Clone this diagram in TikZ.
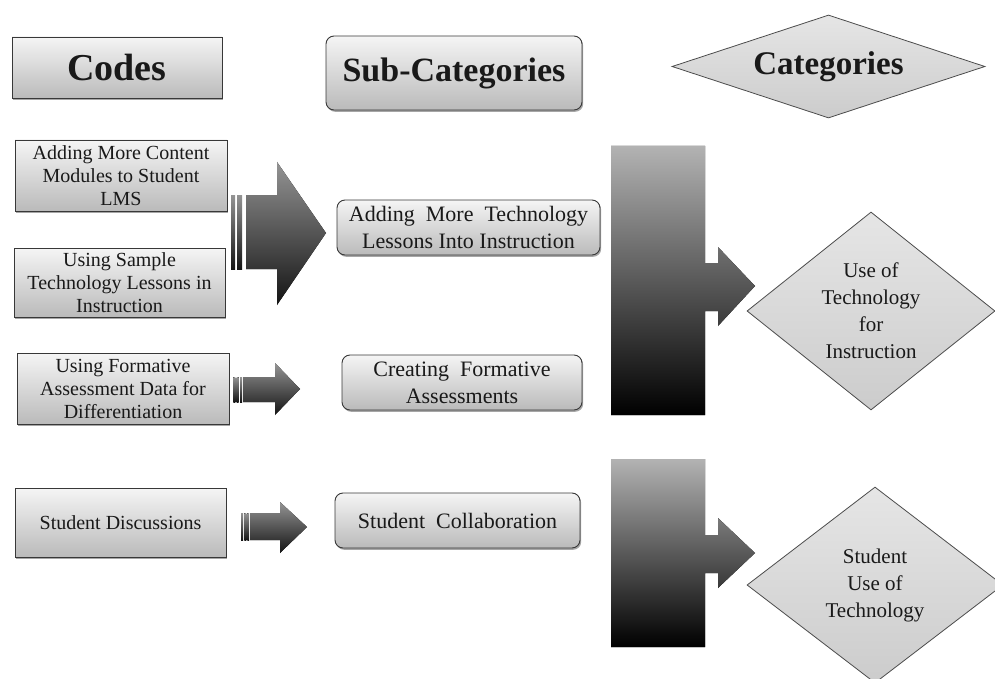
\documentclass[tikz,border=0pt]{standalone}
\usepackage{fontspec}
\setmainfont{Liberation Serif}
\usetikzlibrary{shapes.geometric,shadows}
\tikzset{
  boxshadow/.style={drop shadow={shadow xshift=1.2pt,shadow yshift=-1.8pt,opacity=0.35,fill=black}},
  codebox/.style={draw=black!78, line width=0.9pt, top color=black!4, bottom color=black!27,
    boxshadow, inner sep=0pt, align=center, text=black!90,
    font=\fontsize{20}{23}\selectfont},
  subbox/.style={codebox, rounded corners=8pt, font=\fontsize{22}{27}\selectfont},
  catdiamond/.style={diamond, draw=black!70, line width=0.8pt, top color=black!10, bottom color=black!20,
    inner sep=0pt, align=center, text=black!90, font=\fontsize{21}{27}\selectfont},
  blockarrow/.style={top color=black!42, bottom color=black!92},
  barfill/.style={top color=black!30, bottom color=black!100},
}
\begin{document}
\begin{tikzpicture}[x=1pt,y=-1pt]
\useasboundingbox (0,0) rectangle (995,679);

% headers
\node[codebox, minimum width=210, minimum height=61] (codes) at (117,67.5)
  {\fontsize{38}{40}\selectfont\bfseries Codes};
\node[codebox, rounded corners=8pt, minimum width=256, minimum height=74] (subcat) at (454,73)
  {\fontsize{34}{38}\selectfont\bfseries Sub-Categories};
\node[catdiamond, aspect=3, minimum width=313, minimum height=103] (cat) at (828.5,66.5)
  {\fontsize{33}{36}\selectfont\bfseries Categories};

% codes
\node[codebox, minimum width=212, minimum height=71] (c1) at (121,175.5)
  {Adding More Content\\Modules to Student\\LMS};
\node[codebox, minimum width=211, minimum height=69] (c2) at (119.5,282.5)
  {Using Sample\\Technology Lessons in\\Instruction};
\node[codebox, minimum width=212, minimum height=71] (c3) at (123,388.5)
  {Using Formative\\Assessment Data for\\Differentiation};
\node[codebox, minimum width=211, minimum height=69] (c4) at (120.5,522.5)
  {Student Discussions};

% sub-categories
\node[subbox, minimum width=263, minimum height=55] (s1) at (468.5,227.5)
  {Adding\ \ More\ \ Technology\\Lessons Into Instruction};
\node[subbox, minimum width=240, minimum height=55] (s2) at (462,382.5)
  {Creating\ \ Formative\\Assessments};
\node[subbox, minimum width=245, minimum height=55] (s3) at (457.5,520.5)
  {Student\ \ Collaboration};

% categories
\node[catdiamond, aspect=1.25, minimum width=248, minimum height=198] (k1) at (871,311)
  {Use of\\Technology\\for\\Instruction};
\node[catdiamond, aspect=1.25, minimum width=256, minimum height=196] (k2) at (875,585)
  {Student\\Use of\\Technology};

% big block arrow (codes 1,2 -> sub 1)
\fill[blockarrow] (231,195) rectangle (235,269);
\fill[blockarrow] (237,195) rectangle (242,269);
\fill[blockarrow] (246,195) -- (277,195) -- (277,162) -- (326,233) -- (277,305) -- (277,269) -- (246,269) -- cycle;

% arrow 2 (code 3 -> sub 2)
\fill[blockarrow] (233.3,377) rectangle (235.3,402);
\fill[blockarrow] (236.7,377) rectangle (238.7,402);
\fill[blockarrow] (240,377) rectangle (242,402);
\fill[blockarrow] (243,377) -- (275,377) -- (275,363) -- (300,389) -- (275,415) -- (275,402) -- (243,402) -- cycle;

% arrow 3 (code 4 -> sub 3)
\fill[blockarrow] (241,513) rectangle (243,540);
\fill[blockarrow] (244.3,513) rectangle (246.3,540);
\fill[blockarrow] (247.3,513) rectangle (249,540);
\fill[blockarrow] (250,513) -- (280,513) -- (280,502) -- (307,527) -- (280,553) -- (280,540) -- (250,540) -- cycle;

% bars with arrows to categories
\fill[barfill] (611,146) -- (705,146) -- (705,263) -- (718,263) -- (718,247) -- (755,286)
  -- (718,326) -- (718,311) -- (705,311) -- (705,415) -- (611,415) -- cycle;
\fill[barfill] (611,459) -- (705,459) -- (705,535) -- (718,535) -- (718,518) -- (755,553)
  -- (718,588) -- (718,573) -- (705,573) -- (705,647) -- (611,647) -- cycle;

\end{tikzpicture}
\end{document}
